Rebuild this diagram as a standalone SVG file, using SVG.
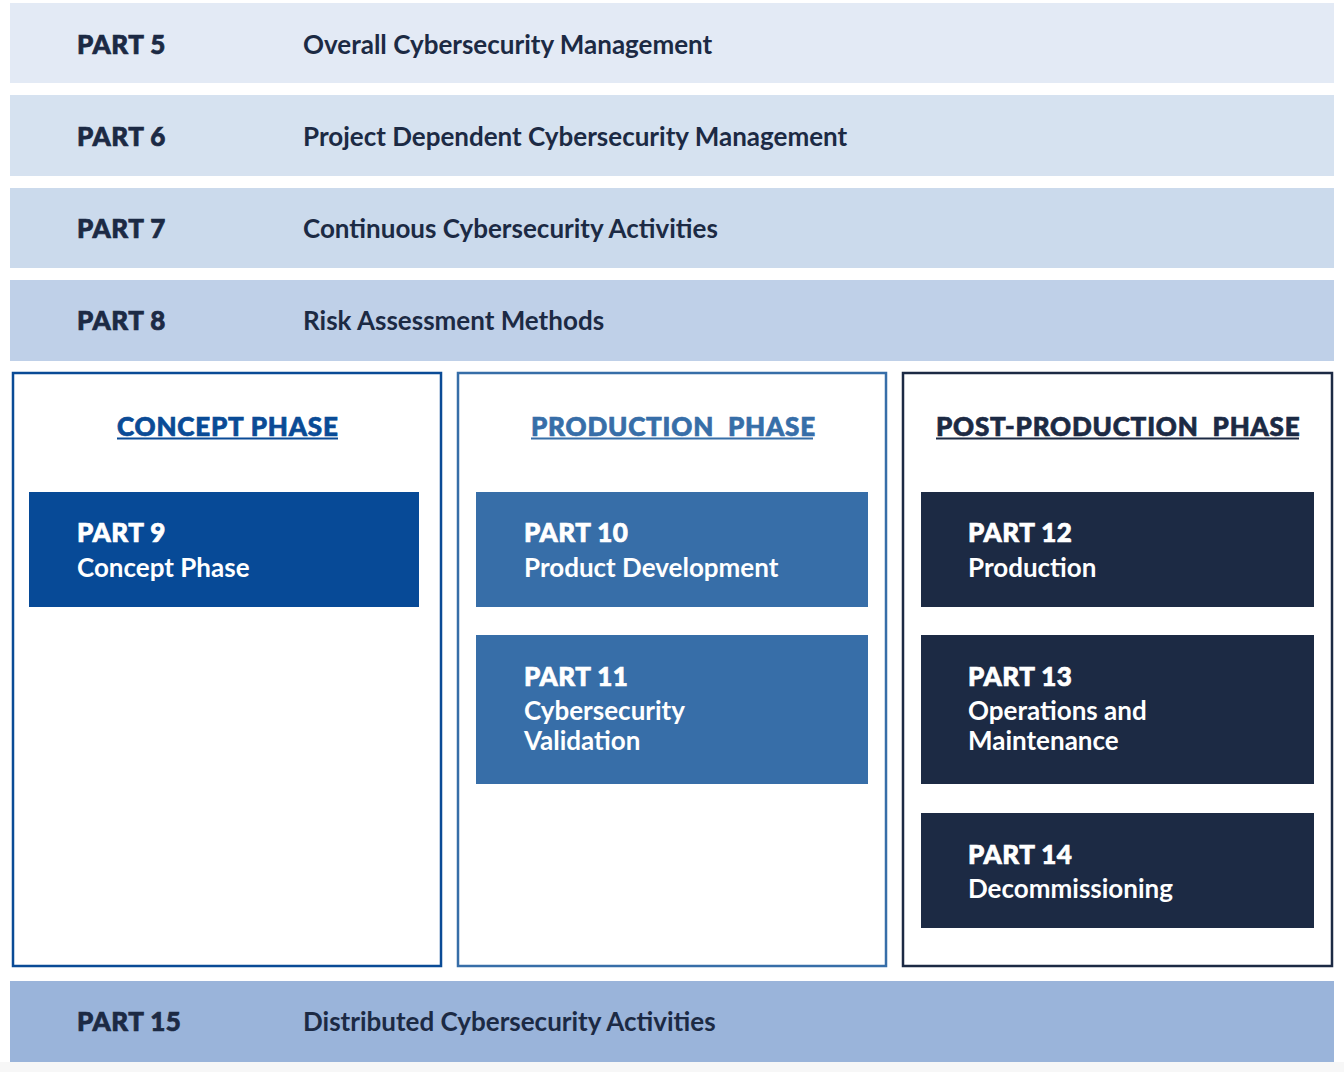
<svg xmlns="http://www.w3.org/2000/svg" width="1344" height="1072" viewBox="0 0 1344 1072">
  <style>
    .part { font-family: Lato, "Noto Sans", sans-serif; font-weight: 900; font-size: 26px; letter-spacing: 0.5px; fill: #1c2a44; stroke: #1c2a44; stroke-width: 0.7px; }
    .desc { font-family: Lato, "Noto Sans", sans-serif; font-weight: 700; font-size: 26px; fill: #1c2a44; }
    .head { font-family: Lato, "Noto Sans", sans-serif; font-weight: 900; font-size: 26px; letter-spacing: 0.8px; white-space: pre; stroke-width: 0.7px; }
    .bpart { font-family: Lato, "Noto Sans", sans-serif; font-weight: 900; font-size: 26px; letter-spacing: 0.5px; fill: #ffffff; stroke: #ffffff; stroke-width: 0.7px; }
    .bdesc { font-family: Lato, "Noto Sans", sans-serif; font-weight: 700; font-size: 26px; fill: #ffffff; }
    .panel { fill: #ffffff; stroke-width: 2.5; }
  </style>

  <rect x="0" y="0" width="1344" height="1072" fill="#ffffff"/>
  <rect x="0" y="1062" width="1344" height="10" fill="#f7f7f7"/>

  <!-- horizontal parts -->
  <g id="part5">
    <rect x="10" y="3" width="1324" height="80" fill="#e3eaf5"/>
    <text class="part" x="77" y="54">PART 5</text>
    <text class="desc" x="303" y="54">Overall Cybersecurity Management</text>
  </g>
  <g id="part6">
    <rect x="10" y="95" width="1324" height="81" fill="#d6e2f0"/>
    <text class="part" x="77" y="146">PART 6</text>
    <text class="desc" x="303" y="146">Project Dependent Cybersecurity Management</text>
  </g>
  <g id="part7">
    <rect x="10" y="188" width="1324" height="80" fill="#cbdaec"/>
    <text class="part" x="77" y="238">PART 7</text>
    <text class="desc" x="303" y="238">Continuous Cybersecurity Activities</text>
  </g>
  <g id="part8">
    <rect x="10" y="280" width="1324" height="81" fill="#bfd0e8"/>
    <text class="part" x="77" y="330">PART 8</text>
    <text class="desc" x="303" y="330">Risk Assessment Methods</text>
  </g>

  <!-- concept phase -->
  <g id="concept-phase">
    <rect class="panel" x="13" y="373" width="428" height="593" stroke="#0a4b96"/>
    <text class="head" x="117" y="436" fill="#0a4b96" stroke="#0a4b96">CONCEPT PHASE</text>
    <line x1="117" y1="438.5" x2="338" y2="438.5" stroke="#0a4b96" stroke-width="2"/>
  </g>
  <g id="part9">
    <rect x="29" y="492" width="390" height="115" fill="#074a97"/>
    <text class="bpart" x="77" y="542">PART 9</text>
    <text class="bdesc" x="77" y="577">Concept Phase</text>
  </g>

  <!-- production phase -->
  <g id="production-phase">
    <rect class="panel" x="458" y="373" width="428" height="593" stroke="#376ea8"/>
    <text class="head" x="531" y="436" fill="#376ea8" stroke="#376ea8">PRODUCTION  PHASE</text>
    <line x1="531" y1="438.5" x2="813" y2="438.5" stroke="#376ea8" stroke-width="2"/>
  </g>
  <g id="part10">
    <rect x="476" y="492" width="392" height="115" fill="#376ea8"/>
    <text class="bpart" x="524" y="542">PART 10</text>
    <text class="bdesc" x="524" y="577">Product Development</text>
  </g>
  <g id="part11">
    <rect x="476" y="635" width="392" height="149" fill="#376ea8"/>
    <text class="bpart" x="524" y="686">PART 11</text>
    <text class="bdesc" x="524" y="720">Cybersecurity</text>
    <text class="bdesc" x="524" y="750">Validation</text>
  </g>

  <!-- post-production phase -->
  <g id="post-production-phase">
    <rect class="panel" x="903" y="373" width="429" height="593" stroke="#1c2a44"/>
    <text class="head" x="936" y="436" fill="#1c2a44" stroke="#1c2a44">POST-PRODUCTION  PHASE</text>
    <line x1="936" y1="438.5" x2="1299" y2="438.5" stroke="#1c2a44" stroke-width="2"/>
  </g>
  <g id="part12">
    <rect x="921" y="492" width="393" height="115" fill="#1c2a44"/>
    <text class="bpart" x="968" y="542">PART 12</text>
    <text class="bdesc" x="968" y="577">Production</text>
  </g>
  <g id="part13">
    <rect x="921" y="635" width="393" height="149" fill="#1c2a44"/>
    <text class="bpart" x="968" y="686">PART 13</text>
    <text class="bdesc" x="968" y="720">Operations and</text>
    <text class="bdesc" x="968" y="750">Maintenance</text>
  </g>
  <g id="part14">
    <rect x="921" y="813" width="393" height="115" fill="#1c2a44"/>
    <text class="bpart" x="968" y="864">PART 14</text>
    <text class="bdesc" x="968" y="898">Decommissioning</text>
  </g>

  <!-- bottom part -->
  <g id="part15">
    <rect x="10" y="981" width="1324" height="81" fill="#9ab4da"/>
    <text class="part" x="77" y="1031">PART 15</text>
    <text class="desc" x="303" y="1031">Distributed Cybersecurity Activities</text>
  </g>

  <g id="connectors"></g>
</svg>
